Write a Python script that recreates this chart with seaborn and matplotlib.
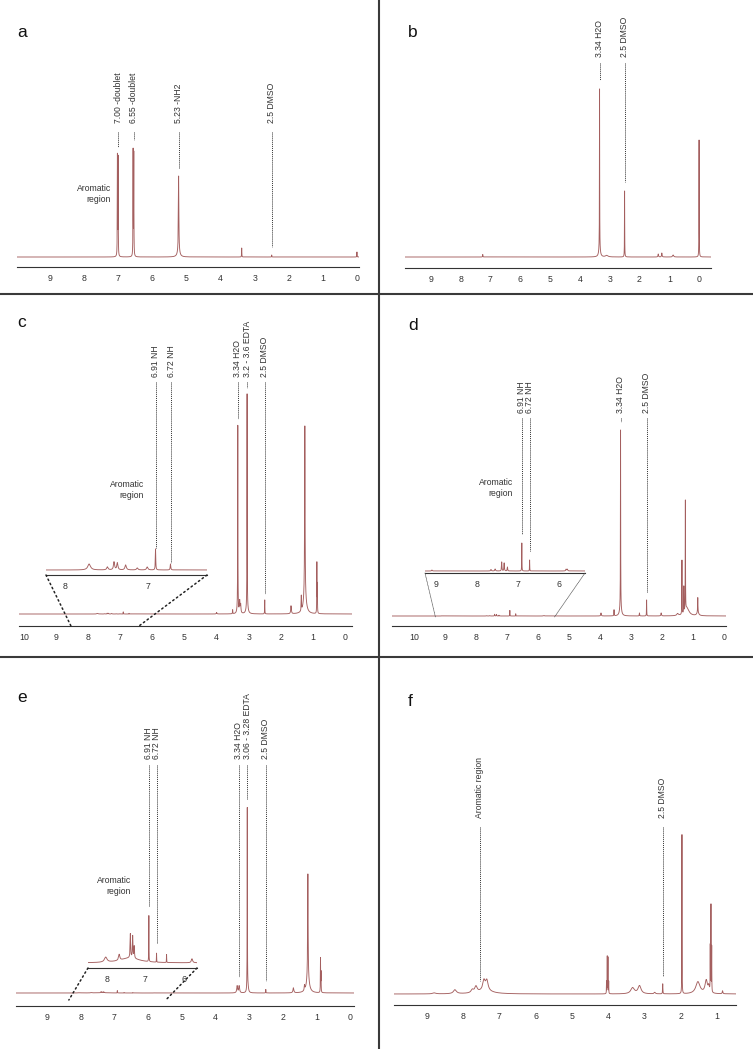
import numpy as np
import matplotlib
matplotlib.use("Agg")
import matplotlib.pyplot as plt
import seaborn as sns
from matplotlib.lines import Line2D
from matplotlib.patches import ConnectionPatch
from matplotlib.ticker import MultipleLocator

# peak tables
# position (ppm), height (px above baseline), half width (ppm)
A_POS = [7.025, 7.005, 6.565, 6.545, 5.23, 5.23, 3.38, 2.50, 0.00]
A_HT = [100, 98, 105, 102, 76, 5, 9, 2, 5]
A_WD = [0.004, 0.004, 0.004, 0.004, 0.008, 0.04, 0.004, 0.004, 0.004]
A_LABELS = [(7.00, "7.00 -doublet"), (6.55, "6.55 -doublet"), (5.23, "5.23 -NH2"), (2.5, "2.5 DMSO")]

B_POS = [7.26, 3.34, 3.34, 3.10, 2.50, 1.37, 1.25, 0.87, 0.00]
B_HT = [2.5, 160, 8, 1.5, 66, 3, 4, 2, 117]
B_WD = [0.006, 0.004, 0.03, 0.05, 0.004, 0.01, 0.01, 0.02, 0.004]
B_LABELS = [(3.34, "3.34 H2O"), (2.5, "2.5 DMSO")]

C_POS = [7.71, 7.49, 7.41, 7.37, 7.27, 7.13, 7.01, 6.91, 6.73,
         4.00, 3.50, 3.34, 3.34, 3.28, 3.25, 3.05, 3.05, 2.50, 1.68, 1.36, 1.25, 1.25, 0.875, 0.86]
C_HT = [0.6, 0.3, 0.8, 0.7, 0.5, 0.2, 0.3, 2.1, 0.6,
        1.5, 4, 180, 8, 12, 8, 212, 8, 14, 8, 15, 170, 18, 50, 28]
C_WD = [0.02, 0.01, 0.008, 0.008, 0.01, 0.01, 0.01, 0.003, 0.004,
        0.01, 0.005, 0.004, 0.02, 0.012, 0.01, 0.004, 0.03, 0.004, 0.012, 0.006, 0.008, 0.05, 0.004, 0.004]
C_LABELS = [(3.34, "3.34 H2O"), (3.05, "3.2 - 3.6 EDTA"), (2.5, "2.5 DMSO")]
C_INSET_LABELS = [(6.91, "6.91 NH"), (6.72, "6.72 NH")]
C_GAIN = 10

D_POS = [9.10, 7.66, 7.56, 7.40, 7.34, 7.26, 6.91, 6.72, 5.83, 5.80,
         3.97, 3.55, 3.34, 3.34, 2.73, 2.50, 2.03, 1.50, 1.36, 1.30, 1.25, 1.20, 0.85, 0.85]
D_HT = [0.2, 0.3, 0.4, 1.8, 1.6, 0.8, 5.6, 2.2, 0.35, 0.35,
        3, 6, 176, 10, 3, 16, 3, 2, 54, 26, 110, 8, 15, 3]
D_WD = [0.01, 0.01, 0.01, 0.006, 0.006, 0.006, 0.003, 0.003, 0.01, 0.01,
        0.01, 0.005, 0.004, 0.03, 0.006, 0.004, 0.01, 0.03, 0.004, 0.004, 0.004, 0.08, 0.006, 0.04]
D_LABELS = [(3.34, "3.34 H2O"), (2.5, "2.5 DMSO")]
D_INSET_LABELS = [(6.91, "6.91 NH"), (6.72, "6.72 NH")]
D_GAIN = 5

E_POS = [8.03, 7.68, 7.40, 7.39, 7.33, 7.29, 6.91, 6.71, 6.45, 5.79,
         3.35, 3.29, 3.05, 3.03, 2.50, 1.68, 1.35, 1.25, 1.25, 0.875, 0.86]
E_HT = [0.25, 0.3, 0.25, 1.2, 1.1, 0.6, 2.3, 0.45, 0.4, 0.2,
        7, 7, 183, 5, 3.5, 5, 5, 105, 14, 34, 20]
E_WD = [0.04, 0.02, 0.3, 0.008, 0.008, 0.008, 0.003, 0.003, 0.003, 0.02,
        0.015, 0.015, 0.004, 0.02, 0.004, 0.015, 0.01, 0.008, 0.05, 0.004, 0.004]
E_LABELS = [(3.30, "3.34 H2O"), (3.05, "3.06 - 3.28 EDTA"), (2.5, "2.5 DMSO")]
E_INSET_LABELS = [(6.91, "6.91 NH"), (6.71, "6.72 NH")]
E_GAIN = 20

F_POS = [8.80, 8.23, 7.75, 7.65, 7.43, 7.35, 7.40, 4.05, 4.03, 4.01, 3.99, 3.33, 3.14,
         2.72, 2.50, 1.97, 1.53, 1.30, 1.23, 1.19, 1.17, 1.15, 0.85]
F_HT = [1, 4, 3, 6, 10, 10, 3, 12, 37, 36, 12, 6, 8,
        1.5, 10, 159, 12, 13, 6, 45, 86, 45, 3]
F_WD = [0.05, 0.05, 0.04, 0.04, 0.04, 0.04, 0.25, 0.003, 0.003, 0.003, 0.003, 0.06, 0.05,
        0.02, 0.005, 0.003, 0.07, 0.04, 0.02, 0.003, 0.003, 0.003, 0.01]
F_LABELS = [(7.54, "Aromatic region"), (2.5, "2.5 DMSO")]

LINE = "#a45f5f"
TEXT = "#333333"
W, H = 753, 1049

sns.set_style("white")
plt.rcParams["font.family"] = ["Liberation Sans", "DejaVu Sans"]

fig = plt.figure(figsize=(W / 100, H / 100), dpi=100)


def spec(x, pos, ht, wd):
    x = np.asarray(x)[:, None]
    return (np.asarray(ht) / (1 + ((x - np.asarray(pos)) / np.asarray(wd)) ** 2)).sum(axis=1)


def make_axes(x0, x1, y_axis, y_top, xlim, minor):
    ax = fig.add_axes([x0 / W, 1 - y_axis / H, (x1 - x0) / W, (y_axis - y_top) / H])
    ax.patch.set_alpha(0)
    ax.y_axis_px = y_axis
    ax.height_px = y_axis - y_top
    for s in ["top", "left", "right"]:
        ax.spines[s].set_visible(False)
    ax.spines["bottom"].set_color(TEXT)
    ax.spines["bottom"].set_linewidth(0.8)
    ax.set_yticks([])
    ax.xaxis.set_major_locator(MultipleLocator(1))
    ax.xaxis.set_minor_locator(MultipleLocator(minor))
    ax.tick_params(axis="x", which="major", length=3.2, width=0.7, pad=2,
                   labelsize=6.3, colors=TEXT, direction="out")
    ax.tick_params(axis="x", which="minor", length=2, width=0.6, colors=TEXT, direction="out")
    ax.xlim_ppm = xlim
    return ax


def draw(ax, pos, ht, wd, offset, gain=1):
    lo, hi = min(ax.xlim_ppm), max(ax.xlim_ppm)
    x = np.union1d(np.linspace(lo, hi, int((hi - lo) / 0.001)),
                   [p for p in pos if lo <= p <= hi])
    y = offset + gain * spec(x, pos, ht, wd)
    sns.lineplot(x=x, y=y, ax=ax, color=LINE, linewidth=0.65, estimator=None, sort=False)
    ax.set_xlim(ax.xlim_ppm)
    ax.set_ylim(0, ax.height_px)
    ax.set_xlabel("")
    ax.set_ylabel("")


def label(ax, ppm, text, pos, ht, wd, offset, gain, text_bottom, line_top, gap):
    win = np.union1d(np.linspace(ppm - 0.02, ppm + 0.02, 401),
                     [p for p in pos if abs(p - ppm) <= 0.02])
    peak = offset + gain * spec(win, pos, ht, wd).max()
    ya = ax.y_axis_px
    ax.text(ppm, ya - text_bottom, text, rotation=90, ha="center", va="bottom",
            fontsize=6.2, color=TEXT, clip_on=False)
    ax.plot([ppm, ppm], [ya - line_top, peak + gap], color=TEXT, lw=0.7,
            ls=(0, (1, 1)), clip_on=False)


def connect(inset, main, end_ppm, end_y, lw, color, dash):
    for side, ppm in zip(inset.xlim_ppm, end_ppm):
        con = ConnectionPatch(xyA=(side, 0), coordsA=inset.transData,
                              xyB=(ppm, end_y), coordsB=main.transData,
                              color=color, lw=lw, ls=dash)
        fig.add_artist(con)


def aromatic(x, y):
    fig.text(x / W, 1 - y / H, "Aromatic\nregion", ha="right", va="center",
             multialignment="right", fontsize=6.2, color=TEXT, linespacing=1.15)


def letter(x, y, s):
    fig.text(x / W, 1 - y / H, s, ha="left", va="baseline", fontsize=12.5, color="#111111")


# a
ax = make_axes(17, 359, 267, 10, (9.97, -0.06), 0.25)
draw(ax, A_POS, A_HT, A_WD, 10)
for p, t in A_LABELS:
    label(ax, p, t, A_POS, A_HT, A_WD, 10, 1, 123, 132, 8)
aromatic(111, 194)
letter(17, 37, "a")

# b
ax = make_axes(405, 711, 268, 10, (9.87, -0.40), 0.25)
draw(ax, B_POS, B_HT, B_WD, 11)
for p, t in B_LABELS:
    label(ax, p, t, B_POS, B_HT, B_WD, 11, 1, 57, 63, 9)
letter(408, 37, "b")

# c
ax = make_axes(19, 352, 626, 300, (10.16, -0.22), 0.25)
draw(ax, C_POS, C_HT, C_WD, 12)
for p, t in C_LABELS:
    label(ax, p, t, C_POS, C_HT, C_WD, 12, 1, 377, 382, 6)
ins = make_axes(46, 207, 575, 520, (8.23, 6.29), 0.1)
draw(ins, C_POS, C_HT, C_WD, 5, C_GAIN)
for p, t in C_INSET_LABELS:
    label(ins, p, t, C_POS, C_HT, C_WD, 5, C_GAIN, 377, 382, 1)
connect(ins, ax, (8.54, 6.42), 0, 1.1, "#222222", (0, (1, 2)))
aromatic(144, 490)
letter(17, 327, "c")

# d
ax = make_axes(392, 726, 626, 300, (10.71, -0.06), 0.25)
draw(ax, D_POS, D_HT, D_WD, 10)
for p, t in D_LABELS:
    label(ax, p, t, D_POS, D_HT, D_WD, 10, 1, 413, 418, 8)
ins = make_axes(425, 585, 573, 520, (9.27, 5.37), 0.25)
draw(ins, D_POS, D_HT, D_WD, 2, D_GAIN)
for p, t in D_INSET_LABELS:
    label(ins, p, t, D_POS, D_HT, D_WD, 2, D_GAIN, 413, 418, 9)
connect(ins, ax, (9.31, 5.47), 9, 0.5, "#555555", (0, (1, 1)))
aromatic(513, 488)
letter(408, 330, "d")

# e
ax = make_axes(16, 354, 1006, 665, (9.92, -0.12), 0.25)
draw(ax, E_POS, E_HT, E_WD, 13)
for p, t in E_LABELS:
    label(ax, p, t, E_POS, E_HT, E_WD, 13, 1, 759, 765, 8)
ins = make_axes(88, 197, 968, 900, (8.49, 5.66), 0.25)
draw(ins, E_POS, E_HT, E_WD, 5, E_GAIN)
for p, t in E_INSET_LABELS:
    label(ins, p, t, E_POS, E_HT, E_WD, 5, E_GAIN, 759, 765, 10)
connect(ins, ax, (8.35, 5.47), 6, 1.1, "#222222", (0, (1, 2)))
aromatic(131, 886)
letter(17, 702, "e")

# f
ax = make_axes(394, 736, 1005, 665, (9.91, 0.48), 0.25)
draw(ax, F_POS, F_HT, F_WD, 11)
for p, t in F_LABELS:
    label(ax, p, t, F_POS, F_HT, F_WD, 11, 1, 818, 827, 8)
letter(408, 706, "f")

# panel dividers
fig.add_artist(Line2D([379 / W, 379 / W], [0, 1], color="#3a3a3a", lw=1.5))
for yy in (294, 657):
    fig.add_artist(Line2D([0, 1], [1 - yy / H, 1 - yy / H], color="#3a3a3a", lw=1.5))

fig.savefig("out.png", dpi=100)
